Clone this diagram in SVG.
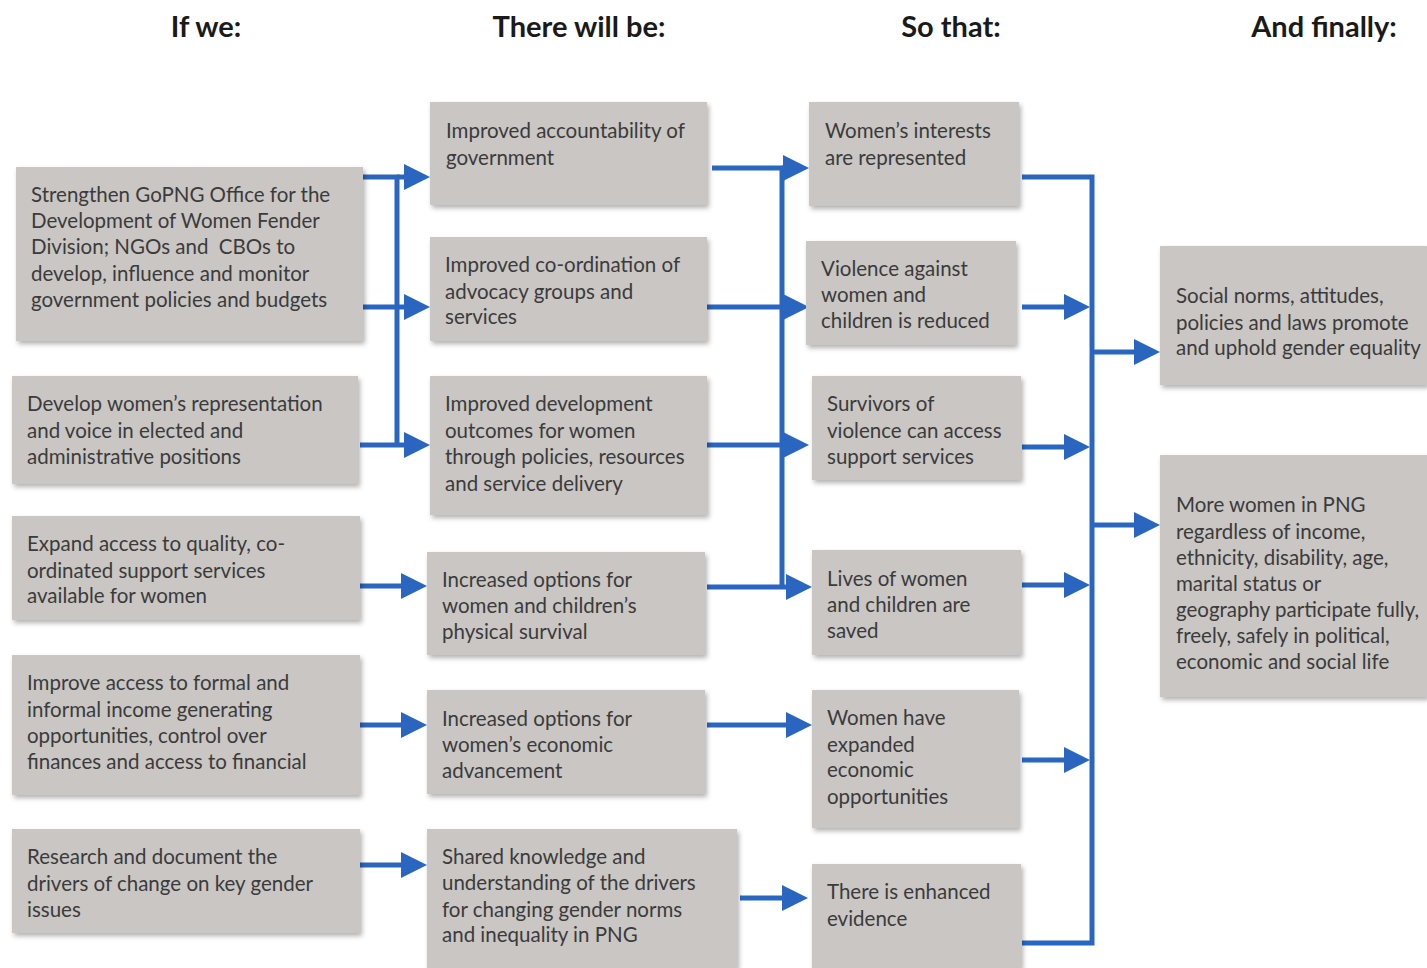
<svg xmlns="http://www.w3.org/2000/svg" width="1427" height="968" viewBox="0 0 1427 968">
<style>
.box{fill:#c9c6c4;filter:url(#sh)}
.t{font-family:Lato,"Open Sans","Liberation Sans",sans-serif;font-size:20.5px;fill:#3b3b3b}
.h{font-family:Lato,"Liberation Sans",sans-serif;font-size:29px;font-weight:bold;fill:#1a1a1a;text-anchor:middle}
.c{fill:none;stroke:#2a66bf;stroke-width:5}
.a{marker-end:url(#ah)}
</style>
<defs>
<filter id="sh" x="-10%" y="-10%" width="120%" height="130%">
<feDropShadow dx="2" dy="3" stdDeviation="2.5" flood-color="#000" flood-opacity="0.3"/>
</filter>
<marker id="ah" viewBox="0 0 26 26" refX="4" refY="13" markerWidth="26" markerHeight="26" markerUnits="userSpaceOnUse" orient="auto">
<path d="M0,0 L26,13 L0,26 z" fill="#2a66bf"/>
</marker>
</defs>
<rect width="1427" height="968" fill="#fff"/>
<g id="headers">
<text class="h" x="206" y="37">If we:</text>
<text class="h" x="579" y="37">There will be:</text>
<text class="h" x="951" y="37">So that:</text>
<text class="h" x="1324" y="37">And finally:</text>
</g>
<g id="connectors">
<path class="c" d="M362,177 H397 V445"/>
<path class="c a" d="M397,177 H408"/>
<path class="c a" d="M362,307 H408"/>
<path class="c a" d="M360,445 H408"/>
<path class="c a" d="M360,586 H405"/>
<path class="c a" d="M360,725 H405"/>
<path class="c a" d="M360,865 H405"/>
<path class="c" d="M712,168 H782 V587"/>
<path class="c a" d="M782,168 H787"/>
<path class="c a" d="M707,307 H787"/>
<path class="c a" d="M707,445 H787"/>
<path class="c a" d="M707,587 H790"/>
<path class="c a" d="M707,725 H790"/>
<path class="c a" d="M740,898 H786"/>
<path class="c" d="M1022,177 H1092 V943 H1022"/>
<path class="c a" d="M1022,307 H1068"/>
<path class="c a" d="M1022,447 H1068"/>
<path class="c a" d="M1022,585 H1068"/>
<path class="c a" d="M1022,760 H1068"/>
<path class="c a" d="M1092,352 H1138"/>
<path class="c a" d="M1092,525 H1138"/>
</g>
<g id="a1"><rect class="box" x="16" y="167" width="347" height="174"/>
<text class="t"><tspan x="31" y="202">Strengthen GoPNG Office for the</tspan><tspan x="31" y="228">Development of Women Fender</tspan><tspan x="31" y="254">Division; NGOs and&#160; CBOs to</tspan><tspan x="31" y="281">develop, influence and monitor</tspan><tspan x="31" y="307">government policies and budgets</tspan></text></g>
<g id="a2"><rect class="box" x="12" y="376" width="346" height="108"/>
<text class="t"><tspan x="27" y="411">Develop women’s representation</tspan><tspan x="27" y="438">and voice in elected and</tspan><tspan x="27" y="464">administrative positions</tspan></text></g>
<g id="a3"><rect class="box" x="12" y="516" width="348" height="104"/>
<text class="t"><tspan x="27" y="551">Expand access to quality, co-</tspan><tspan x="27" y="578">ordinated support services</tspan><tspan x="27" y="603">available for women</tspan></text></g>
<g id="a4"><rect class="box" x="12" y="655" width="348" height="140"/>
<text class="t"><tspan x="27" y="690">Improve access to formal and</tspan><tspan x="27" y="717">informal income generating</tspan><tspan x="27" y="743">opportunities, control over</tspan><tspan x="27" y="769">finances and access to financial</tspan></text></g>
<g id="a5"><rect class="box" x="12" y="829" width="348" height="104"/>
<text class="t"><tspan x="27" y="864">Research and document the</tspan><tspan x="27" y="891">drivers of change on key gender</tspan><tspan x="27" y="917">issues</tspan></text></g>
<g id="b1"><rect class="box" x="430" y="102" width="277" height="103"/>
<text class="t"><tspan x="446" y="138">Improved accountability of</tspan><tspan x="446" y="165">government</tspan></text></g>
<g id="b2"><rect class="box" x="430" y="237" width="277" height="104"/>
<text class="t"><tspan x="445" y="272">Improved co-ordination of</tspan><tspan x="445" y="299">advocacy groups and</tspan><tspan x="445" y="324">services</tspan></text></g>
<g id="b3"><rect class="box" x="430" y="376" width="277" height="139"/>
<text class="t"><tspan x="445" y="411">Improved development</tspan><tspan x="445" y="438">outcomes for women</tspan><tspan x="445" y="464">through policies, resources</tspan><tspan x="445" y="491">and service delivery</tspan></text></g>
<g id="b4"><rect class="box" x="427" y="552" width="278" height="103"/>
<text class="t"><tspan x="442" y="587">Increased options for</tspan><tspan x="442" y="613">women and children’s</tspan><tspan x="442" y="639">physical survival</tspan></text></g>
<g id="b5"><rect class="box" x="427" y="690" width="278" height="104"/>
<text class="t"><tspan x="442" y="726">Increased options for</tspan><tspan x="442" y="752">women’s economic</tspan><tspan x="442" y="778">advancement</tspan></text></g>
<g id="b6"><rect class="box" x="427" y="829" width="310" height="139"/>
<text class="t"><tspan x="442" y="864">Shared knowledge and</tspan><tspan x="442" y="890">understanding of the drivers</tspan><tspan x="442" y="917">for changing gender norms</tspan><tspan x="442" y="942">and inequality in PNG</tspan></text></g>
<g id="c1"><rect class="box" x="809" y="102" width="210" height="104"/>
<text class="t"><tspan x="825" y="138">Women’s interests</tspan><tspan x="825" y="165">are represented</tspan></text></g>
<g id="c2"><rect class="box" x="806" y="241" width="210" height="104"/>
<text class="t"><tspan x="821" y="276">Violence against</tspan><tspan x="821" y="302">women and</tspan><tspan x="821" y="328">children is reduced</tspan></text></g>
<g id="c3"><rect class="box" x="812" y="376" width="209" height="104"/>
<text class="t"><tspan x="827" y="411">Survivors of</tspan><tspan x="827" y="438">violence can access</tspan><tspan x="827" y="464">support services</tspan></text></g>
<g id="c4"><rect class="box" x="812" y="550" width="209" height="105"/>
<text class="t"><tspan x="827" y="586">Lives of women</tspan><tspan x="827" y="612">and children are</tspan><tspan x="827" y="638">saved</tspan></text></g>
<g id="c5"><rect class="box" x="812" y="690" width="207" height="138"/>
<text class="t"><tspan x="827" y="725">Women have</tspan><tspan x="827" y="752">expanded</tspan><tspan x="827" y="777">economic</tspan><tspan x="827" y="804">opportunities</tspan></text></g>
<g id="c6"><rect class="box" x="812" y="864" width="209" height="104"/>
<text class="t"><tspan x="827" y="899">There is enhanced</tspan><tspan x="827" y="926">evidence</tspan></text></g>
<g id="d1"><rect class="box" x="1160" y="246" width="267" height="139"/>
<text class="t"><tspan x="1176" y="303">Social norms, attitudes,</tspan><tspan x="1176" y="330">policies and laws promote</tspan><tspan x="1176" y="355">and uphold gender equality</tspan></text></g>
<g id="d2"><rect class="box" x="1160" y="455" width="267" height="242"/>
<text class="t"><tspan x="1176" y="512">More women in PNG</tspan><tspan x="1176" y="539">regardless of income,</tspan><tspan x="1176" y="565">ethnicity, disability, age,</tspan><tspan x="1176" y="591">marital status or</tspan><tspan x="1176" y="617">geography participate fully,</tspan><tspan x="1176" y="643">freely, safely in political,</tspan><tspan x="1176" y="669">economic and social life</tspan></text></g>
</svg>
